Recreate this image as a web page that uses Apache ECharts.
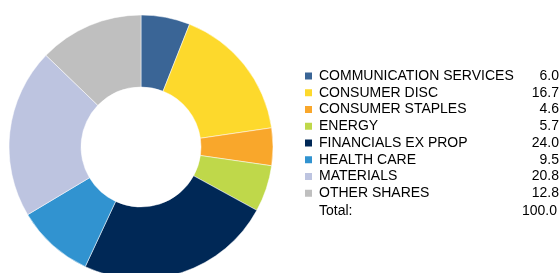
<!DOCTYPE html>
<html><head><meta charset="utf-8">
<script src="https://cdn.jsdelivr.net/npm/echarts@6/dist/echarts.min.js"></script>
<style>html,body{margin:0;padding:0;background:#fff}#c{width:560px;height:273px}</style>
</head><body><div id="c"></div>
<script>
const categories = ["COMMUNICATION SERVICES","CONSUMER DISC","CONSUMER STAPLES","ENERGY","FINANCIALS EX PROP","HEALTH CARE","MATERIALS","OTHER SHARES"];
const values = [6.0, 16.7, 4.6, 5.7, 24.0, 9.5, 20.8, 12.8];
const totalLabel = "Total:";
const totalValue = "100.0";
const colors = ["#3A6596","#FDD92C","#F9A72B","#BFD84A","#002856","#3193D0","#BDC4E0","#BFBFBF"];

const chart = echarts.init(document.getElementById('c'), null, {renderer:'canvas'});
const font = 'Liberation Sans, Arial, sans-serif';
chart.setOption({
  animation: false,
  color: colors,
  legend: {
    orient: 'vertical', left: 303, top: 69, padding: 0,
    itemWidth: 9, itemHeight: 9, itemGap: 2.75, icon: 'rect',
    selectedMode: false,
    data: categories,
    formatter: function(name){
      const i = categories.indexOf(name);
      return '{n|' + name + '}{v|' + values[i].toFixed(1) + '}';
    },
    textStyle: {
      fontFamily: font, fontSize: 14, color: '#000',
      rich: {
        n: {fontFamily: font, fontSize: 14, color: '#000', width: 196, padding:[0,0,0,1]},
        v: {fontFamily: font, fontSize: 14, color: '#000', width: 44, align: 'right'}
      }
    }
  },
  graphic: [
    {type:'text', left: 319, top: 204, style:{text: totalLabel, font: '14px ' + font, fill:'#000'}},
    {type:'text', right: 3, top: 204, style:{text: totalValue, font: '14px ' + font, fill:'#000', textAlign:'right'}}
  ],
  series: [{
    type: 'pie',
    center: [141, 147],
    radius: [60, 132],
    startAngle: 90,
    label: {show: false},
    labelLine: {show: false},
    emphasis: {disabled: true},
    itemStyle: {borderColor: '#fff', borderWidth: 0.5},
    data: categories.map((c,i)=>({name:c, value: values[i]}))
  }]
});
</script></body></html>
